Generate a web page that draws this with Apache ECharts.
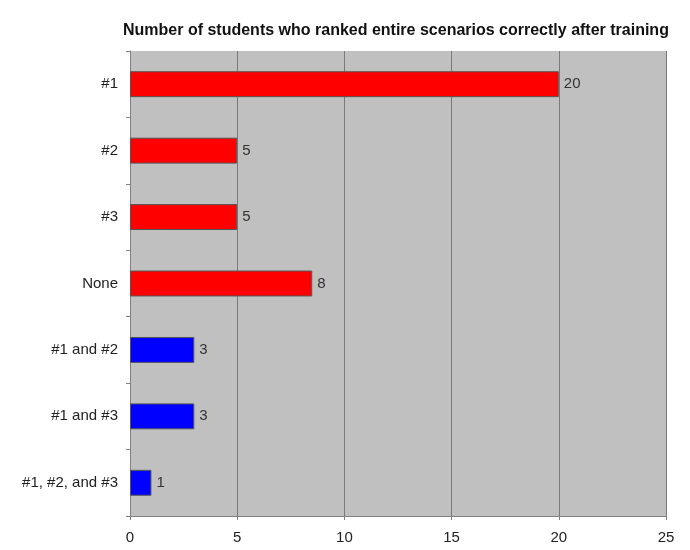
<!DOCTYPE html>
<html>
<head>
<meta charset="utf-8">
<script src="https://cdn.jsdelivr.net/npm/echarts@6/dist/echarts.min.js"></script>
<style>
  html, body { margin: 0; padding: 0; background: #fff; }
  #chart { width: 690px; height: 550px; }
</style>
</head>
<body>
<div id="chart"></div>
<script>
/* ── Data ── */
const CATEGORIES = ['#1', '#2', '#3', 'None', '#1 and #2', '#1 and #3', '#1, #2, and #3'];
const VALUES     = [20, 5, 5, 8.5, 3, 3, 1];
const LABELS     = ['20', '5', '5', '8', '3', '3', '1'];
const COLORS     = ['#ff0000', '#ff0000', '#ff0000', '#ff0000', '#0000ff', '#0000ff', '#0000ff'];
const X_TICKS    = [0, 5, 10, 15, 20, 25];

const FONT = '"Liberation Sans", Arial, sans-serif';

const chart = echarts.init(document.getElementById('chart'), null, { renderer: 'canvas' });

chart.setOption({
    animation: false,
    title: {
        text: 'Number of students who ranked entire scenarios correctly after training',
        left: 118,
        top: 18,
        textStyle: { fontFamily: FONT, fontSize: 16, fontWeight: 'bold', color: '#111' },
    },
    grid: {
        left: 130, right: 24, top: 51, bottom: 34,
        show: true,
        backgroundColor: '#c0c0c0',
        borderColor: '#c0c0c0',
        borderWidth: 0,
    },
    xAxis: {
        type: 'value',
        min: X_TICKS[0],
        max: X_TICKS[X_TICKS.length - 1],
        interval: 5,
        axisLine: { show: true, lineStyle: { color: '#808080', width: 1 } },
        axisTick: { show: true, length: 4, inside: false, lineStyle: { color: '#808080' } },
        axisLabel: { fontFamily: FONT, fontSize: 15, color: '#222', margin: 14 },
        splitLine: { show: true, lineStyle: { color: '#7a7a7a', width: 1 } },
    },
    yAxis: {
        type: 'category',
        inverse: true,
        data: CATEGORIES,
        axisLine: { show: true, lineStyle: { color: '#808080', width: 1 } },
        axisTick: { show: true, length: 4, lineStyle: { color: '#808080' } },
        axisLabel: { fontFamily: FONT, fontSize: 15, color: '#222', margin: 12 },
    },
    series: [
        {
            type: 'bar',
            barWidth: '39%',
            data: VALUES.map((v, i) => ({
                value: v,
                itemStyle: { color: COLORS[i], borderColor: '#555', borderWidth: 1 },
            })),
            label: {
                show: true,
                position: 'right',
                distance: 5,
                fontFamily: FONT,
                fontSize: 15,
                color: '#333',
                formatter: (p) => LABELS[p.dataIndex],
            },
        },
    ],
});
</script>
</body>
</html>
